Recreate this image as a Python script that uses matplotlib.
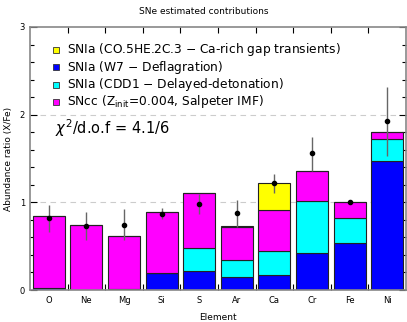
import numpy as np
import matplotlib.pyplot as plt
from matplotlib.ticker import MultipleLocator, FixedLocator

elements = ['O', 'Ne', 'Mg', 'Si', 'S', 'Ar', 'Ca', 'Cr', 'Fe', 'Ni']

# stacked contributions (bottom to top)
w7 = [0.02, 0.0, 0.015, 0.19, 0.22, 0.15, 0.17, 0.42, 0.535, 1.47]
cdd1 = [0.0, 0.0, 0.0, 0.0, 0.26, 0.19, 0.275, 0.59, 0.285, 0.25]
sncc = [0.82, 0.745, 0.605, 0.695, 0.63, 0.375, 0.465, 0.35, 0.18, 0.08]
carich = [0.005, 0.0, 0.0, 0.0, 0.0, 0.02, 0.31, 0.0, 0.0, 0.0]

# observed abundances with errors
obs = [0.82, 0.73, 0.74, 0.87, 0.985, 0.875, 1.22, 1.56, 1.0, 1.93]
err_lo = [0.16, 0.165, 0.17, 0.06, 0.115, 0.155, 0.11, 0.20, 0.01, 0.40]
err_hi = [0.15, 0.155, 0.18, 0.06, 0.105, 0.155, 0.10, 0.19, 0.01, 0.39]

labels = ['SNIa (CO.5HE.2C.3 $-$ Ca-rich gap transients)',
          'SNIa (W7 $-$ Deflagration)',
          'SNIa (CDD1 $-$ Delayed-detonation)',
          'SNcc (Z$_{\\rm init}$=0.004, Salpeter IMF)']
colors = ['#ffff00', '#0000ff', '#00ffff', '#ff00ff']

fig = plt.figure(figsize=(4.07, 3.22), dpi=100)
ax = fig.add_axes([30 / 407, 32 / 322, 376 / 407, 263 / 322])

x = np.arange(len(elements))
bw = 0.85
edge = dict(edgecolor='#222222', linewidth=0.8)
b1 = np.array(w7)
b2 = b1 + np.array(cdd1)
b3 = b2 + np.array(sncc)
ax.bar(x, w7, bw, color=colors[1], **edge, zorder=2)
ax.bar(x, cdd1, bw, bottom=b1, color=colors[2], **edge, zorder=2)
ax.bar(x, sncc, bw, bottom=b2, color=colors[3], **edge, zorder=2)
ax.bar(x, carich, bw, bottom=b3, color=colors[0], **edge, zorder=2)

ax.errorbar(x, obs, yerr=[err_lo, err_hi], fmt='o', color='black', ms=3,
            ecolor='#666666', elinewidth=1.0, capsize=0, zorder=4)

for yy in [1, 2]:
    ax.axhline(yy, color='#cccccc', lw=0.8, ls=(0, (5, 4)), zorder=1)

ax.set_xlim(-0.5, 9.5)
ax.set_ylim(0, 3)
ax.set_xticks(x)
ax.set_xticklabels(elements, fontsize=6)
ax.tick_params(axis='x', length=0, pad=4)
ax.xaxis.set_minor_locator(FixedLocator(np.arange(0.5, 9.5, 1)))
ax.tick_params(axis='x', which='minor', direction='in', length=4,
               top=True, bottom=True, width=0.8)
ax.set_yticks([0, 1, 2, 3])
ax.yaxis.set_minor_locator(MultipleLocator(0.2))
ax.tick_params(axis='y', which='both', direction='in', left=True, right=True,
               labelsize=6, width=0.8)
ax.tick_params(axis='y', which='major', length=5)
ax.tick_params(axis='y', which='minor', length=3)
for s in ax.spines.values():
    s.set_color('#888888')
    s.set_linewidth(1.2)

ax.set_xlabel('Element', fontsize=6.5, labelpad=6)
ax.set_ylabel('Abundance ratio (X/Fe)', fontsize=6.5, labelpad=5)
fig.text(0.5, 1 - 11 / 322, 'SNe estimated contributions', ha='center',
         va='center', fontsize=6.5)

# legend drawn by hand
for i, (lab, c) in enumerate(zip(labels, colors)):
    yp = 50 + 17.3 * i
    yax = (290 - yp) / 263
    ax.plot([(56 - 30) / 376], [yax], 's', ms=4.5, mfc=c, mec='#333333',
            mew=0.6, transform=ax.transAxes, clip_on=False, zorder=5)
    ax.text((67 - 30) / 376, yax, lab, transform=ax.transAxes, fontsize=8.8,
            va='center', ha='left')

ax.text((55 - 30) / 376, (290 - 128) / 263, '$\\chi^2$/d.o.f = 4.1/6',
        transform=ax.transAxes, fontsize=10.5, va='center', ha='left')

fig.savefig('out.png', dpi=100)
